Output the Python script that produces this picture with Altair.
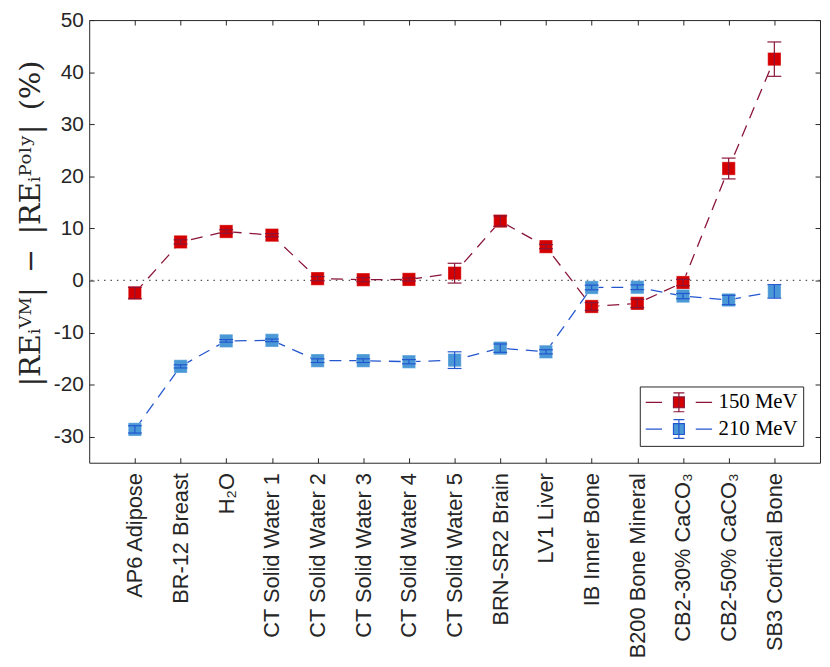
import altair as alt
import pandas as pd

categories = [
    "AP6 Adipose", "BR-12 Breast", "H₂O", "CT Solid Water 1", "CT Solid Water 2",
    "CT Solid Water 3", "CT Solid Water 4", "CT Solid Water 5", "BRN-SR2 Brain",
    "LV1 Liver", "IB Inner Bone", "B200 Bone Mineral", "CB2-30% CaCO₃",
    "CB2-50% CaCO₃", "SB3 Cortical Bone",
]
series_names = ["150 MeV", "210 MeV"]
red_values = [-2.4, 7.4, 9.4, 8.7, 0.35, 0.15, 0.2, 1.4, 11.4, 6.5, -5.0, -4.4, -0.4, 21.5, 42.5]
red_errors = [1.1, 0.4, 0.35, 0.3, 0.4, 0.4, 0.3, 1.9, 1.0, 0.4, 0.75, 0.8, 0.6, 2.0, 3.3]
blue_values = [-28.6, -16.5, -11.6, -11.5, -15.4, -15.4, -15.6, -15.3, -13.0, -13.7, -1.35, -1.3, -3.0, -3.75, -2.1]
blue_errors = [0.7, 0.3, 0.25, 0.25, 0.35, 0.35, 0.4, 1.6, 0.8, 0.4, 0.45, 0.45, 0.5, 0.9, 1.3]
y_ticks = [-30, -20, -10, 0, 10, 20, 30, 40, 50]

rows = []
for name, vals, errs in [(series_names[0], red_values, red_errors),
                         (series_names[1], blue_values, blue_errors)]:
    for i, (c, v, e) in enumerate(zip(categories, vals, errs)):
        rows.append({"material": c, "idx": i, "series": name, "value": v,
                     "lo": v - e, "hi": v + e})
df = pd.DataFrame(rows)

line_colors = ["#8a1538", "#2457cf"]
fill_colors = ["#d40000", "#4a98d6"]
stroke_scale = alt.Scale(domain=series_names, range=line_colors)
cap_scale = alt.Scale(domain=series_names, range=line_colors)
fill_scale = alt.Scale(domain=series_names, range=fill_colors)
x_scale = alt.Scale(type="point", padding=1)
y_scale = alt.Scale(domain=[-35, 50], nice=False, zero=False)

axis_color = "#262626"
legend_path = ("M-3.35,0H-1.7M1.7,0H3.35M-0.55,-0.55H0.55V0.55H-0.55Z"
               "M0,-0.95V0.95M-0.55,-0.95H0.55M-0.55,0.95H0.55")
legend = alt.Legend(
    title=None, orient="bottom-right", offset=17, symbolType=legend_path,
    symbolSize=400, symbolOffset=23.5, labelOffset=29, symbolStrokeWidth=1.2,
    labelFont="Liberation Serif", labelFontSize=21, labelColor="black",
    strokeColor=axis_color, fillColor="white", padding=5, rowPadding=3,
)

plot_h = 447
x_bottom = alt.Axis(
    orient="bottom", offset=-5, tickSize=5, domain=False, grid=False,
    labelAngle=-90, labelAlign="right", labelBaseline="middle", labelPadding=10,
    labelFont="Liberation Sans", labelFontSize=22, labelColor=axis_color,
    labelLimit=400, tickColor=axis_color, title=None,
)
y_left = alt.Axis(
    orient="left", offset=-5, tickSize=5, domain=False, grid=False, values=y_ticks,
    labelExpr="datum.value", labelPadding=6, labelFont="Liberation Sans",
    labelFontSize=21, labelColor=axis_color, tickColor=axis_color,
    title="|REᵢⱽᴹ|\u2002−\u2002|REᵢᴾᵒˡʸ|\u2002(%)", titleFont="DejaVu Serif",
    titleFontSize=29, titleFontWeight="normal", titleColor=axis_color,
    titleX=-64, titleY=205, titleBaseline="middle", titleAlign="center",
)
x_top = alt.Axis(orient="top", offset=-5, tickSize=5, domain=False, grid=False,
                 labels=False, tickColor=axis_color, title=None)
y_right = alt.Axis(orient="right", offset=-5, tickSize=5, domain=False, grid=False,
                   labels=False, values=y_ticks, tickColor=axis_color, title=None)

base = alt.Chart(df)
X = lambda ax=None: alt.X("material:N", sort=categories, scale=x_scale, axis=ax)

axes_main = base.mark_point(opacity=0).encode(
    x=X(x_bottom), y=alt.Y("value:Q", scale=y_scale, axis=y_left))
axes_mirror = base.mark_point(opacity=0).encode(
    x=X(x_top), y=alt.Y("value:Q", scale=y_scale, axis=y_right))

zero = alt.Chart(pd.DataFrame({"z": [0]})).mark_rule(
    color="#555555", strokeDash=[1.5, 5], strokeWidth=1.2
).encode(y=alt.Y("z:Q", scale=y_scale, axis=None))

lines = base.mark_line(strokeWidth=1.3, strokeDash=[12, 8]).encode(
    x=X(), y=alt.Y("value:Q", scale=y_scale, axis=None),
    stroke=alt.Stroke("series:N", scale=stroke_scale, legend=legend),
    order=alt.Order("idx:Q"),
)
points = base.mark_square(size=180, opacity=1, stroke="white", strokeOpacity=0.35,
                          strokeWidth=1).encode(
    x=X(), y=alt.Y("value:Q", scale=y_scale, axis=None),
    fill=alt.Fill("series:N", scale=fill_scale, legend=legend),
)
bars = base.mark_rule(strokeWidth=1.2).encode(
    x=X(), y=alt.Y("lo:Q", scale=y_scale, axis=None), y2="hi:Q",
    stroke=alt.Stroke("series:N", scale=stroke_scale, legend=None),
)
cap_lo = base.mark_tick(size=14, thickness=1.2, opacity=1).encode(
    x=X(), y=alt.Y("lo:Q", scale=y_scale, axis=None),
    color=alt.Color("series:N", scale=cap_scale, legend=None),
)
cap_hi = base.mark_tick(size=14, thickness=1.2, opacity=1).encode(
    x=X(), y=alt.Y("hi:Q", scale=y_scale, axis=None),
    color=alt.Color("series:N", scale=cap_scale, legend=None),
)

chart = alt.layer(
    axes_main, axes_mirror, zero, lines, points, bars, cap_lo, cap_hi
).resolve_axis(x="independent", y="independent").properties(
    width=738, height=plot_h,
    autosize=alt.AutoSizeParams(type="none"),
    padding={"left": 82, "top": 9, "right": 2, "bottom": 195},
).configure_view(stroke=axis_color, strokeWidth=1)

chart.save("out.html", embed_options={"renderer": "svg", "actions": False})
